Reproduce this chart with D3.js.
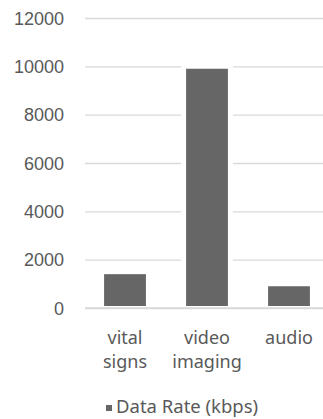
<!DOCTYPE html>
<html>
<head>
<meta charset="utf-8">
<style>
  body { margin: 0; background: #fff; }
  svg { display: block; font-family: "Noto Sans", "Open Sans", sans-serif; }
</style>
</head>
<body>
<script src="https://cdn.jsdelivr.net/npm/d3@7"></script>
<script>

// data
var categories = ['vital signs', 'video imaging', 'audio'];
var labelLines = [['vital', 'signs'], ['video', 'imaging'], ['audio']];
var rates      = [1400, 9900, 900];
var yTicks     = [0, 2000, 4000, 6000, 8000, 10000, 12000];
var seriesName = 'Data Rate (kbps)';

var width = 323, height = 419;
var x0 = 84, x1 = 330, y0 = 308, y1 = 18;

var svg = d3.select('body').append('svg')
	.attr('width', width)
	.attr('height', height);

var x = d3.scaleBand()
	.domain(categories)
	.range([x0, x1])
	.paddingInner(0.49)
	.paddingOuter(0.245);

var y = d3.scaleLinear()
	.domain([0, 12000])
	.range([y0, y1]);

// grid
svg.append('g')
	.attr('transform', `translate(${x1},0)`)
	.call(d3.axisLeft(y).tickValues(yTicks).tickSize(x1 - x0 - 1).tickFormat(''))
	.call(g => g.select('.domain').remove())
	.call(g => g.selectAll('.tick line')
		.attr('stroke', '#d9d9d9')
		.attr('stroke-width', 1.3));

// y labels
svg.append('g')
	.attr('transform', `translate(${x0 - 20},0)`)
	.call(d3.axisLeft(y).tickValues(yTicks).tickSize(0).tickPadding(0).tickFormat(d3.format('d')))
	.call(g => g.select('.domain').remove())
	.call(g => g.selectAll('.tick text')
		.attr('fill', '#595959')
		.attr('font-size', 18)
		.attr('dy', '0.35em'));

// white halo round the bars (gaps in grid lines)
svg.append('g').selectAll('rect')
	.data(rates)
	.join('rect')
		.attr('fill', '#fff')
		.attr('x', (d, i) => x(categories[i]) - 5)
		.attr('width', x.bandwidth() + 10)
		.attr('y', d => y(d) - 5)
		.attr('height', d => y(0) - y(d) + 4);

// bars
svg.append('g').selectAll('rect')
	.data(rates)
	.join('rect')
		.attr('fill', '#666666')
		.attr('x', (d, i) => x(categories[i]))
		.attr('width', x.bandwidth())
		.attr('y', d => y(d))
		.attr('height', d => y(0) - y(d) - 2);

// baseline
svg.append('line')
	.attr('x1', x0 + 1).attr('x2', x1)
	.attr('y1', y(0)).attr('y2', y(0))
	.attr('stroke', '#d9d9d9')
	.attr('stroke-width', 1.3);

// category labels, one text per line
var catLabels = svg.append('g').selectAll('g')
	.data(categories)
	.join('g')
		.attr('transform', d => `translate(${x(d) + x.bandwidth() / 2},${y0 + 36})`);
catLabels.each(function(d, i) {
	d3.select(this).selectAll('text')
		.data(labelLines[i])
		.join('text')
			.attr('text-anchor', 'middle')
			.attr('fill', '#595959')
			.attr('font-size', 18)
			.attr('y', (t, j) => j * 24)
			.text(t => t);
});

// legend
var legend = svg.append('g')
	.attr('transform', 'translate(106,413)');
legend.append('rect')
	.attr('x', 0).attr('y', -8)
	.attr('width', 6).attr('height', 6)
	.attr('fill', '#666666');
legend.append('text')
	.attr('x', 10)
	.attr('fill', '#595959')
	.attr('font-size', 18.5)
	.text(seriesName);

</script>
</body>
</html>
